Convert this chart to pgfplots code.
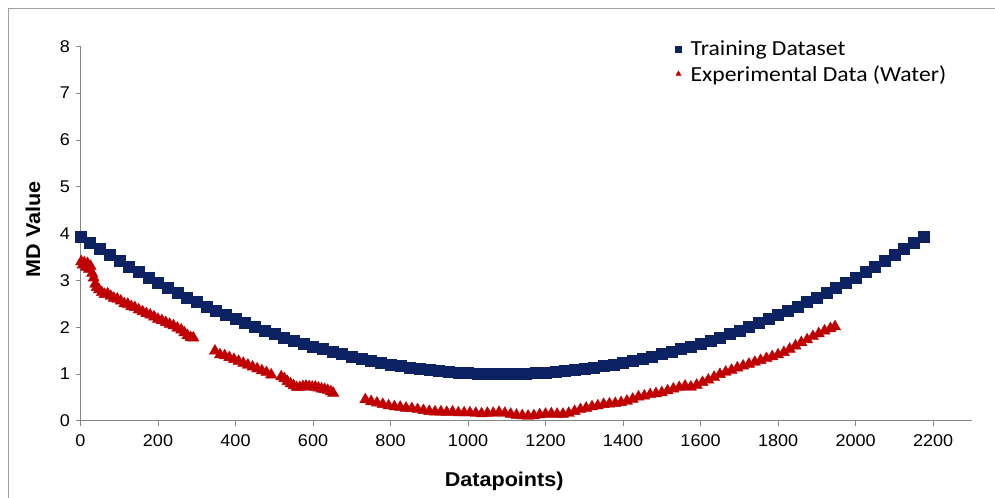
\documentclass[border=0pt]{standalone}
\usepackage{fontspec}
\setmainfont{Liberation Sans}
\newfontfamily\legfont[FakeStretch=1.1]{Carlito}
\newfontfamily\labfont[FakeStretch=1.08]{Liberation Sans}
\newfontfamily\tickfont[FakeStretch=1.06]{Liberation Sans}
\usepackage{pgfplots}
\pgfplotsset{compat=1.18}
\definecolor{navy}{RGB}{12,34,98}
\definecolor{dred}{RGB}{192,0,0}
\definecolor{axgray}{RGB}{134,134,134}
\definecolor{framegray}{RGB}{160,160,160}
\begin{document}
\begin{tikzpicture}
\path[use as bounding box] (0,0) rectangle (995bp,498bp);
\draw[framegray, line width=0.8bp] (8bp,0bp) -- (8bp,490bp) -- (995bp,490bp);
\begin{axis}[
  at={(80.5bp,77.3bp)}, anchor=south west,
  scale only axis, width=891.3bp, height=374.4bp,
  xmin=0, xmax=2300, ymin=0, ymax=8,
  axis x line=bottom, axis y line=left,
  axis line style={-, draw=axgray, line width=0.8bp},
  xtick={0,200,...,2200}, ytick={0,1,...,8},
  tick align=outside, major tick length=5bp,
  tick style={draw=axgray, line width=0.8bp},
  tick label style={font=\tickfont\fontsize{17bp}{20bp}\selectfont, text=black},
  /pgf/number format/assume math mode=true,
  /pgf/number format/1000 sep={},
  scaled ticks=false,
  xticklabel style={yshift=-5bp},
  yticklabel style={xshift=-2bp},
  xlabel={\textbf{Datapoints)}},
  ylabel={\textbf{MD Value}},
  label style={font=\labfont\fontsize{20bp}{23bp}\selectfont},
  xlabel style={at={(axis description cs:0.5,0)}, anchor=center, yshift=-61bp, xshift=-22bp},
  ylabel style={at={(axis description cs:0,0.5)}, anchor=center, yshift=47.5bp, xshift=4bp},
  clip=false,
  legend style={draw=none, fill=none, at={(axis description cs:0.666,1.02)}, anchor=north west,
    font=\legfont\fontsize{21.5bp}{24bp}\selectfont, row sep=4bp, inner sep=0bp},
  legend cell align=left,
  legend image code/.code={\path (-4bp,0) (10bp,0); \draw[#1, mark size=3bp] plot coordinates {(0bp,0bp)};},
]
\addplot[only marks, mark=square*, mark size=5.5bp, color=navy] coordinates {
(0,3.930) (25,3.797) (50,3.667) (75,3.540) (100,3.416) (125,3.295) (150,3.177) (175,3.063)
(200,2.951) (225,2.843) (250,2.738) (275,2.636) (300,2.536) (325,2.440) (350,2.348) (375,2.258)
(400,2.171) (425,2.087) (450,2.007) (475,1.929) (500,1.855) (525,1.784) (550,1.716) (575,1.651)
(600,1.589) (625,1.530) (650,1.474) (675,1.422) (700,1.372) (725,1.326) (750,1.282) (775,1.242)
(800,1.205) (825,1.171) (850,1.140) (875,1.112) (900,1.087) (925,1.065) (950,1.047) (975,1.031)
(1000,1.019) (1025,1.010) (1050,1.003) (1075,1.000)
(1100,1.000) (1125,1.003) (1150,1.010) (1175,1.019) (1200,1.031) (1225,1.047) (1250,1.065) (1275,1.087)
(1300,1.112) (1325,1.140) (1350,1.171) (1375,1.205) (1400,1.242) (1425,1.282) (1450,1.326) (1475,1.372)
(1500,1.422) (1525,1.474) (1550,1.530) (1575,1.589) (1600,1.651) (1625,1.716) (1650,1.784) (1675,1.855)
(1700,1.929) (1725,2.007) (1750,2.087) (1775,2.171) (1800,2.258) (1825,2.348) (1850,2.440) (1875,2.536)
(1900,2.636) (1925,2.738) (1950,2.843) (1975,2.951) (2000,3.063) (2025,3.177) (2050,3.295) (2075,3.416)
(2100,3.540) (2125,3.667) (2150,3.797) (2175,3.930)
};
\addlegendentry{Training Dataset}
\addplot[only marks, mark=triangle*, mark size=6.5bp, color=dred] coordinates {
(2,3.40) (6,3.33) (10,3.38) (14,3.28) (18,3.36) (22,3.24) (26,3.30) (30,3.15) (34,3.05) (38,2.92)
(42,2.85) (48,2.80) (55,2.74) (62,2.70) (70,2.71) (78,2.66) (86,2.62) (95,2.60) (104,2.56) (113,2.50)
(122,2.49) (131,2.44) (140,2.42) (150,2.37) (160,2.33) (170,2.29) (180,2.26) (190,2.22) (200,2.17)
(210,2.14) (220,2.10) (230,2.06) (240,2.03) (250,1.98) (260,1.94) (268,1.88) (276,1.82) (284,1.78) (291,1.77)
(347,1.49) (360,1.41) (372,1.39) (384,1.35) (396,1.31) (408,1.27) (420,1.23) (432,1.19) (444,1.15)
(456,1.11) (468,1.07) (480,1.03) (492,0.98)
(518,0.94) (526,0.90) (534,0.84) (542,0.79) (550,0.75) (558,0.71) (566,0.71) (574,0.73) (582,0.74)
(590,0.73) (598,0.72) (606,0.72) (614,0.70) (622,0.68) (630,0.67) (638,0.65) (646,0.62) (652,0.59)
(735,0.45) (750,0.41) (765,0.38) (780,0.35) (795,0.32) (810,0.30) (825,0.29) (840,0.27) (855,0.26)
(870,0.24) (885,0.22) (900,0.20) (915,0.19) (930,0.19) (945,0.18) (960,0.19) (975,0.17) (990,0.17)
(1005,0.17) (1020,0.16) (1035,0.15) (1050,0.16) (1065,0.16) (1080,0.18) (1095,0.16) (1110,0.14)
(1125,0.12) (1140,0.11) (1155,0.10) (1170,0.11) (1185,0.13) (1200,0.14) (1215,0.15) (1230,0.14)
(1245,0.14) (1260,0.16) (1275,0.20) (1290,0.24) (1305,0.27) (1320,0.30) (1335,0.32) (1350,0.35)
(1365,0.36) (1380,0.37) (1395,0.39) (1410,0.42) (1425,0.46) (1440,0.51) (1455,0.53) (1470,0.56)
(1485,0.58) (1500,0.60) (1515,0.64) (1530,0.68) (1545,0.71) (1560,0.74) (1575,0.72) (1590,0.76)
(1605,0.82) (1620,0.87) (1635,0.93) (1650,0.99) (1665,1.04) (1680,1.08) (1695,1.13) (1710,1.17)
(1725,1.21) (1740,1.25) (1755,1.29) (1770,1.33) (1785,1.37) (1800,1.41) (1815,1.46) (1830,1.53)
(1845,1.60) (1860,1.67) (1875,1.73) (1890,1.80) (1905,1.86) (1920,1.92) (1935,1.97) (1947,2.01)
};
\addlegendentry{Experimental Data (Water)}
\end{axis}
\end{tikzpicture}
\end{document}
